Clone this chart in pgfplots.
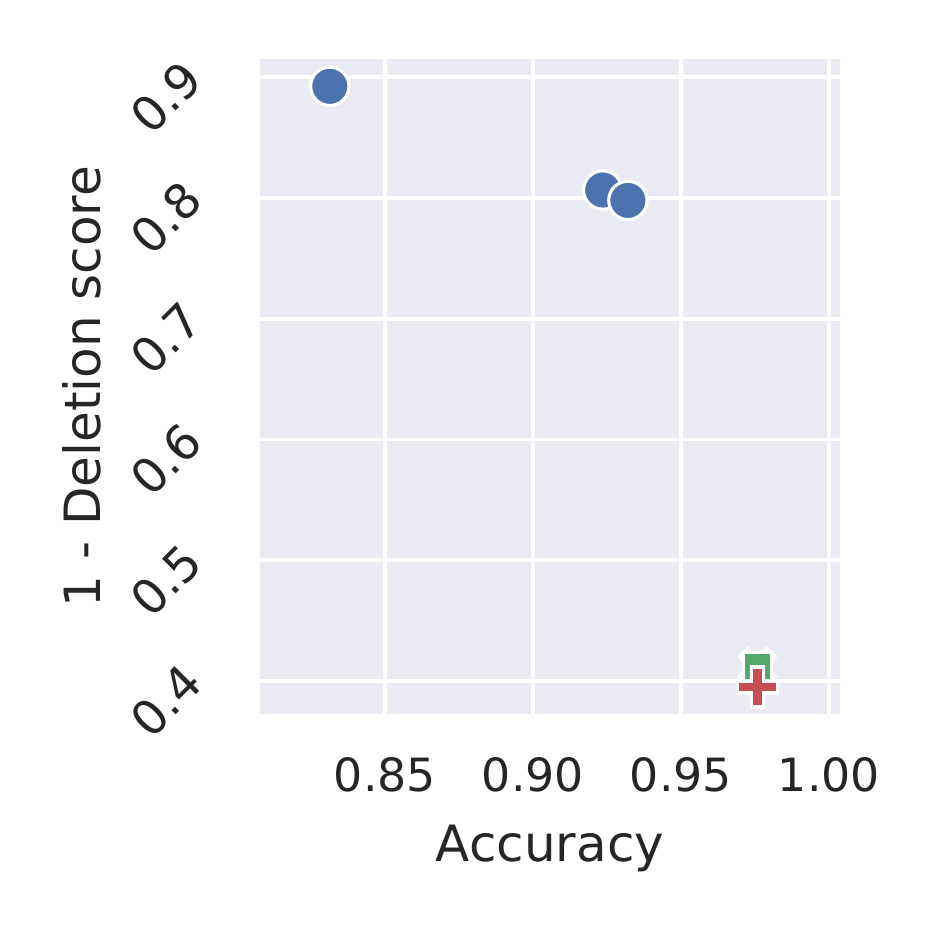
\documentclass[border=0pt]{standalone}
\usepackage{fontspec}
\setmainfont{DejaVu Sans}
\usepackage{pgfplots}
\pgfplotsset{compat=1.18}

\definecolor{sbblue}{HTML}{4C72B0}
\definecolor{sborange}{HTML}{DD8452}
\definecolor{sbgreen}{HTML}{55A868}
\definecolor{sbred}{HTML}{C44E52}
\definecolor{sbbg}{HTML}{EAEAF2}
\definecolor{sbtext}{HTML}{262626}

% filled plus, like matplotlib's "P"
\pgfdeclareplotmark{fatplus}{%
  \pgfpathmoveto{\pgfqpoint{-0.3\pgfplotmarksize}{\pgfplotmarksize}}%
  \pgfpathlineto{\pgfqpoint{0.3\pgfplotmarksize}{\pgfplotmarksize}}%
  \pgfpathlineto{\pgfqpoint{0.3\pgfplotmarksize}{0.3\pgfplotmarksize}}%
  \pgfpathlineto{\pgfqpoint{\pgfplotmarksize}{0.3\pgfplotmarksize}}%
  \pgfpathlineto{\pgfqpoint{\pgfplotmarksize}{-0.3\pgfplotmarksize}}%
  \pgfpathlineto{\pgfqpoint{0.3\pgfplotmarksize}{-0.3\pgfplotmarksize}}%
  \pgfpathlineto{\pgfqpoint{0.3\pgfplotmarksize}{-\pgfplotmarksize}}%
  \pgfpathlineto{\pgfqpoint{-0.3\pgfplotmarksize}{-\pgfplotmarksize}}%
  \pgfpathlineto{\pgfqpoint{-0.3\pgfplotmarksize}{-0.3\pgfplotmarksize}}%
  \pgfpathlineto{\pgfqpoint{-\pgfplotmarksize}{-0.3\pgfplotmarksize}}%
  \pgfpathlineto{\pgfqpoint{-\pgfplotmarksize}{0.3\pgfplotmarksize}}%
  \pgfpathlineto{\pgfqpoint{-0.3\pgfplotmarksize}{0.3\pgfplotmarksize}}%
  \pgfpathclose
  \pgfusepathqfillstroke}
% filled x, like matplotlib's "X"
\pgfdeclareplotmark{fatx}{%
  \pgftransformrotate{45}%
  \pgfuseplotmark{fatplus}}

\begin{document}
\begin{tikzpicture}
\begin{axis}[
  scale only axis,
  width=139.2pt,
  height=157.2pt,
  xmin=0.8078, xmax=1.0037,
  ymin=0.3726, ymax=0.915,
  axis background/.style={fill=sbbg},
  axis line style={draw=none},
  major tick length=0pt,
  grid=major,
  grid style={white,line width=0.9pt},
  xtick={0.85,0.90,0.95,1.00},
  ytick={0.4,0.5,0.6,0.7,0.8,0.9},
  /pgf/number format/assume math mode=true,
  xticklabel style={/pgf/number format/fixed,/pgf/number format/fixed zerofill,/pgf/number format/precision=2,
    font=\fontsize{11}{13}\selectfont, text=sbtext, yshift=-7pt},
  yticklabel style={/pgf/number format/fixed,/pgf/number format/fixed zerofill,/pgf/number format/precision=1,
    font=\fontsize{11.5}{13}\selectfont, text=sbtext, xshift=-13.6pt, yshift=4.2pt, rotate=45, anchor=east},
  xlabel={Accuracy},
  ylabel={1 - Deletion score},
  label style={font=\fontsize{12}{14}\selectfont, text=sbtext},
  xlabel style={at={(axis description cs:0.5,-0.205)}, anchor=center},
  ylabel style={at={(axis description cs:-0.307,0.5)}, anchor=center},
]
\addplot[only marks, mark=*, mark size=4.6pt, mark options={fill=sbblue, draw=white, line width=0.75pt}]
  coordinates {(0.8314,0.8925) (0.9236,0.8066) (0.9321,0.7980)};
\addplot[only marks, mark=fatx, mark size=4.7pt, mark options={fill=sborange, draw=white, line width=0.75pt}]
  coordinates {(0.9758,0.4120)};
\addplot[only marks, mark=square*, mark size=3.4pt, mark options={fill=sbgreen, draw=white, line width=0.75pt}]
  coordinates {(0.9758,0.4120)};
\addplot[only marks, mark=fatplus, mark size=4.8pt, mark options={fill=sbred, draw=white, line width=0.75pt}]
  coordinates {(0.9758,0.3950)};
\coordinate (O) at (rel axis cs:0,0);
\coordinate (T) at (rel axis cs:1,1);
\end{axis}
\path (O) ++(-62.4pt,-52.8pt);
\path (T) ++(22.6pt,14.2pt);
\end{tikzpicture}
\end{document}
